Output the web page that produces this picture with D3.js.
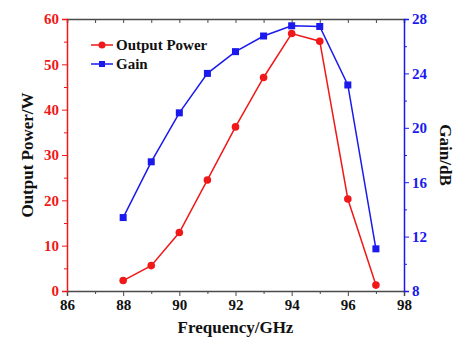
<!DOCTYPE html>
<html>
<head>
<meta charset="utf-8">
<script src="https://cdn.jsdelivr.net/npm/d3@7"></script>
<style>
  html, body { margin: 0; padding: 0; background: #fff; }
  svg text { font-family: "Liberation Serif", "Times New Roman", serif; font-weight: bold; }
</style>
</head>
<body>
<svg id="chart" width="455" height="338"></svg>
<script>
// Frequency sweep (GHz)
const frequency = [88, 89, 90, 91, 92, 93, 94, 95, 96, 97];
// Output power (W)
const outputPower = [2.3, 5.6, 12.9, 24.5, 36.2, 47.1, 56.8, 55.1, 20.3, 1.3];
// Gain (dB)
const gain = [13.4, 17.5, 21.1, 24.0, 25.6, 26.75, 27.5, 27.45, 23.15, 11.1];

const xTicks = [86, 88, 90, 92, 94, 96, 98];
const powerTicks = [0, 10, 20, 30, 40, 50, 60];
const gainTicks = [8, 12, 16, 20, 24, 28];

const RED = "#f01818";
const BLUE = "#1a1aee";
const AXIS = "#4a4a4a";
const FONT = "Liberation Serif";

const margin = { left: 67, right: 51, top: 19, bottom: 47 };
const W = 455, H = 338;
const svg = d3.select("#chart");

const x = d3.scaleLinear().domain([86, 98]).range([margin.left, W - margin.right]);
const yP = d3.scaleLinear().domain([0, 60]).range([H - margin.bottom, margin.top]);
const yG = d3.scaleLinear().domain([8, 28]).range([H - margin.bottom, margin.top]);

const x0 = margin.left, x1 = W - margin.right;
const y0 = H - margin.bottom, y1 = margin.top;

function styleAxis(g, color, labelColor) {
  g.attr("font-family", FONT).attr("font-weight", "bold").attr("font-size", 15);
  g.select(".domain").attr("stroke", color).attr("stroke-width", 1.5);
  g.selectAll(".tick line").attr("stroke", color);
  g.selectAll(".tick text").attr("fill", labelColor);
}

// Top frame line with inward ticks
const topAxis = svg.append("g").attr("transform", `translate(0,${y1})`)
  .call(d3.axisTop(x).tickValues(d3.range(86, 99, 1)).tickSize(-4).tickFormat(""));
styleAxis(topAxis, AXIS, AXIS);

// Bottom axis: minor ticks then labelled majors
const botMinor = svg.append("g").attr("transform", `translate(0,${y0})`)
  .call(d3.axisBottom(x).tickValues(d3.range(87, 98, 2)).tickSize(3).tickFormat(""));
botMinor.select(".domain").remove();
botMinor.selectAll(".tick line").attr("stroke", AXIS);

const botAxis = svg.append("g").attr("transform", `translate(0,${y0})`)
  .call(d3.axisBottom(x).tickValues(xTicks).tickSize(5).tickPadding(3).tickFormat(d3.format("d")));
styleAxis(botAxis, AXIS, "#111");

// Left axis (output power) in red
const leftMinor = svg.append("g").attr("transform", `translate(${x0},0)`)
  .call(d3.axisLeft(yP).tickValues(d3.range(5, 60, 10)).tickSize(3).tickFormat(""));
leftMinor.select(".domain").remove();
leftMinor.selectAll(".tick line").attr("stroke", RED);

const leftAxis = svg.append("g").attr("transform", `translate(${x0},0)`)
  .call(d3.axisLeft(yP).tickValues(powerTicks).tickSize(5).tickPadding(3).tickFormat(d3.format("d")));
styleAxis(leftAxis, RED, RED);

// Right axis (gain) in blue
const rightMinor = svg.append("g").attr("transform", `translate(${x1},0)`)
  .call(d3.axisRight(yG).tickValues(d3.range(10, 28, 4)).tickSize(3).tickFormat(""));
rightMinor.select(".domain").remove();
rightMinor.selectAll(".tick line").attr("stroke", BLUE);

const rightAxis = svg.append("g").attr("transform", `translate(${x1},0)`)
  .call(d3.axisRight(yG).tickValues(gainTicks).tickSize(5).tickPadding(3).tickFormat(d3.format("d")));
styleAxis(rightAxis, BLUE, BLUE);

// Axis titles
svg.append("text").attr("x", (x0 + x1) / 2).attr("y", 333)
  .attr("text-anchor", "middle").attr("fill", "#111").style("font-size", "17px")
  .text("Frequency/GHz");
svg.append("text").attr("transform", `translate(33,${(y0 + y1) / 2}) rotate(-90)`)
  .attr("text-anchor", "middle").attr("fill", "#111").style("font-size", "17px")
  .text("Output Power/W");
svg.append("text").attr("transform", `translate(440,${(y0 + y1) / 2}) rotate(90)`)
  .attr("text-anchor", "middle").attr("fill", "#111").style("font-size", "17px")
  .text("Gain/dB");

// Series
const powerData = frequency.map((f, i) => [f, outputPower[i]]);
const gainData = frequency.map((f, i) => [f, gain[i]]);

svg.append("path").datum(gainData)
  .attr("fill", "none").attr("stroke", BLUE).attr("stroke-width", 1.5)
  .attr("d", d3.line().x(d => x(d[0])).y(d => yG(d[1])));
svg.append("g").selectAll("rect").data(gainData).join("rect")
  .attr("x", d => x(d[0]) - 3.5).attr("y", d => yG(d[1]) - 3.5)
  .attr("width", 7).attr("height", 7).attr("fill", BLUE);

svg.append("path").datum(powerData)
  .attr("fill", "none").attr("stroke", RED).attr("stroke-width", 1.5)
  .attr("d", d3.line().x(d => x(d[0])).y(d => yP(d[1])));
svg.append("g").selectAll("circle").data(powerData).join("circle")
  .attr("cx", d => x(d[0])).attr("cy", d => yP(d[1])).attr("r", 3.8).attr("fill", RED);

// Legend
const legend = [
  { label: "Output Power", color: RED, shape: "circle", y: 45 },
  { label: "Gain", color: BLUE, shape: "square", y: 64 }
];
const lg = svg.append("g");
legend.forEach(item => {
  lg.append("line").attr("x1", 91).attr("x2", 113).attr("y1", item.y).attr("y2", item.y)
    .attr("stroke", item.color).attr("stroke-width", 1.5);
  if (item.shape === "circle") {
    lg.append("circle").attr("cx", 102).attr("cy", item.y).attr("r", 3.5).attr("fill", item.color);
  } else {
    lg.append("rect").attr("x", 99).attr("y", item.y - 3).attr("width", 6).attr("height", 6).attr("fill", item.color);
  }
  lg.append("text").attr("x", 116).attr("y", item.y + 5).attr("fill", "#111")
    .style("font-size", "15px").text(item.label);
});
</script>
</body>
</html>
